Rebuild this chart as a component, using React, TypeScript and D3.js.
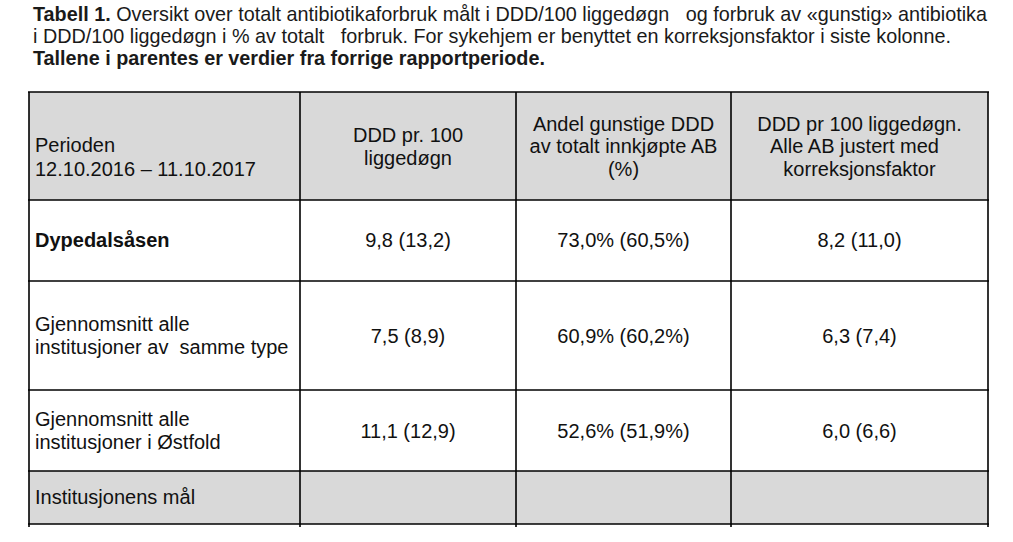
import React from "react";
import * as d3 from "d3";

const titleLines = [
  [{ t: "Tabell 1.", b: true }, { t: " Oversikt over totalt antibiotikaforbruk målt i DDD/100 liggedøgn   og forbruk av «gunstig» antibiotika", b: false }],
  [{ t: "i DDD/100 liggedøgn i % av totalt   forbruk. For sykehjem er benyttet en korreksjonsfaktor i siste kolonne.", b: false }],
  [{ t: "Tallene i parentes er verdier fra forrige rapportperiode.", b: true }],
];

const headerCols = [
  ["Perioden", "12.10.2016 – 11.10.2017"],
  ["DDD pr. 100", "liggedøgn"],
  ["Andel gunstige DDD", "av totalt innkjøpte AB", "(%)"],
  ["DDD pr 100 liggedøgn.", "Alle AB justert med", "korreksjonsfaktor"],
];

const rowLabels = [
  ["Dypedalsåsen"],
  ["Gjennomsnitt alle", "institusjoner av  samme type"],
  ["Gjennomsnitt alle", "institusjoner i Østfold"],
  ["Institusjonens mål"],
];
const rowBold = [true, false, false, false];

const dddNow = [9.8, 7.5, 11.1];
const dddPrev = [13.2, 8.9, 12.9];
const shareNow = [73.0, 60.9, 52.6];
const sharePrev = [60.5, 60.2, 51.9];
const corrNow = [8.2, 6.3, 6.0];
const corrPrev = [11.0, 7.4, 6.6];

// layout
const colEdges = [29, 300, 516, 731, 988];
const rowEdges = [92, 200, 281, 390, 471, 524];

const loc = d3.formatLocale({ decimal: ",", thousands: " ", grouping: [3], currency: ["", ""] });
const f1 = loc.format(".1f");

export default function App() {
  const W = 1013, H = 542;
  const colX = d3.scaleOrdinal<number, number>().domain(d3.range(4)).range(colEdges.slice(0, 4));
  const colR = d3.scaleOrdinal<number, number>().domain(d3.range(4)).range(colEdges.slice(1));
  const rowY = d3.scaleOrdinal<number, number>().domain(d3.range(5)).range(rowEdges.slice(0, 5));
  const rowB = d3.scaleOrdinal<number, number>().domain(d3.range(5)).range(rowEdges.slice(1));
  const cx = (c: number) => (colX(c) + colR(c)) / 2;
  const cy = (r: number) => (rowY(r) + rowB(r)) / 2;

  const values: string[][] = dddNow.map((_, i) => [
    `${f1(dddNow[i])} (${f1(dddPrev[i])})`,
    `${f1(shareNow[i])}% (${f1(sharePrev[i])}%)`,
    `${f1(corrNow[i])} (${f1(corrPrev[i])})`,
  ]);

  const font = "'Liberation Sans', Arial, sans-serif";
  const lh = 22.5;
  const fs = 20;
  const color = "#111";

  const headerDx = (c: number, k: number) => (c === 3 && k === 1 ? -5 : 0);

  return (
    <svg width={W} height={H} style={{ position: "absolute", left: 0, top: 0, background: "#fff" }} fontFamily={font}>
      <rect width={W} height={H} fill="#fff" />
      {titleLines.map((line, i) => (
        <text key={i} x={33} y={21 + i * 22} fontSize={19.8} fill="#1a1a1a" style={{ whiteSpace: "pre" }}>
          {line.map((s, j) => (
            <tspan key={j} fontWeight={s.b ? "bold" : "normal"}>{s.t}</tspan>
          ))}
        </text>
      ))}
      {/* backgrounds */}
      <rect x={colEdges[0]} y={rowY(0)} width={colEdges[4] - colEdges[0]} height={rowB(0) - rowY(0)} fill="#d9d9d9" />
      <rect x={colEdges[0]} y={rowY(4)} width={colEdges[4] - colEdges[0]} height={rowB(4) - rowY(4)} fill="#d9d9d9" />
      {/* grid lines */}
      {rowEdges.map((y, i) => (
        <line key={"h" + i} x1={colEdges[0] - 1} x2={colEdges[4] + 1} y1={y} y2={y} stroke="#000" strokeWidth={1.6} />
      ))}
      {colEdges.map((x, i) => (
        <line key={"v" + i} x1={x} x2={x} y1={rowEdges[0]} y2={rowEdges[5] + 3} stroke="#000" strokeWidth={1.6} />
      ))}
      {/* header */}
      {headerCols.map((lines, c) => {
        const n = lines.length;
        const step = c === 1 ? 23 : lh;
        const y0 = c === 0 ? 152 : cy(0) + 7 - ((n - 1) * step) / 2 + (n === 2 ? 0 : 0);
        return lines.map((t, k) => (
          <text
            key={c + "-" + k}
            x={c === 0 ? colX(0) + 6 : cx(c) + headerDx(c, k)}
            y={y0 + k * (c === 0 ? 24 : step)}
            textAnchor={c === 0 ? "start" : "middle"}
            fontSize={fs}
            fill={color}
            style={{ whiteSpace: "pre" }}
          >
            {t}
          </text>
        ));
      })}
      {/* row labels */}
      {rowLabels.map((lines, r) => {
        const n = lines.length;
        const y0 = cy(r + 1) + 7 - ((n - 1) * lh) / 2;
        return lines.map((t, k) => (
          <text
            key={"r" + r + k}
            x={colX(0) + 6}
            y={(r === 0 ? 247 : r === 3 ? 504 : y0) + k * lh}
            fontSize={fs}
            fontWeight={rowBold[r] ? "bold" : "normal"}
            fill={color}
            style={{ whiteSpace: "pre" }}
          >
            {t}
          </text>
        ));
      })}
      {/* values */}
      {values.map((row, r) =>
        row.map((v, c) => (
          <text
            key={"v" + r + c}
            x={cx(c + 1)}
            y={r === 0 ? 247 : cy(r + 1) + 7}
            textAnchor="middle"
            fontSize={fs}
            fill={color}
          >
            {v}
          </text>
        ))
      )}
    </svg>
  );
}
